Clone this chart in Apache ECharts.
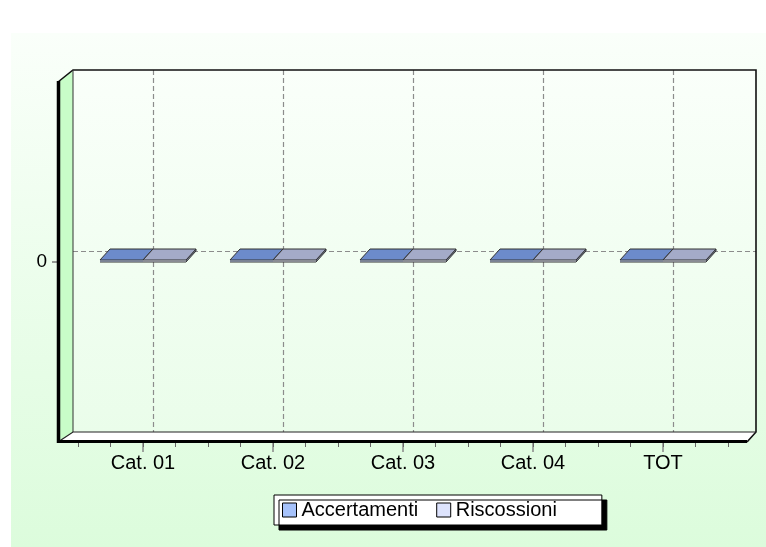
<!DOCTYPE html>
<html><head><meta charset="utf-8">
<script src="https://cdn.jsdelivr.net/npm/echarts@6/dist/echarts.min.js"></script>
<style>html,body{margin:0;padding:0;background:#fff}#c{width:766px;height:547px}</style>
</head><body><div id="c"></div>
<script>
const categories = ['Cat. 01', 'Cat. 02', 'Cat. 03', 'Cat. 04', 'TOT'];
const accertamenti = [0, 0, 0, 0, 0];
const riscossioni = [0, 0, 0, 0, 0];
const seriesNames = ['Accertamenti', 'Riscossioni'];
const yTickValues = [0];

const FONT = '"Liberation Sans", Arial, sans-serif';
const BAR_W = 43, DX = 10, DY = -11;
const TOP_COLORS = ['#6c8bcb', '#a4abc8'];
const FRONT_COLORS = ['#c3d3f5', '#e2e6f5'];
const SIDE_COLORS = ['#4f6aa8', '#8088a6'];

const chart = echarts.init(document.getElementById('c'), null, {renderer: 'canvas'});

function renderBar(params, api) {
  const i = api.value(0), v = api.value(1);
  const p0 = api.coord([i, 0]);
  const p1 = api.coord([i, v]);
  const k = params.seriesIndex;
  const x0 = p0[0] + (k === 0 ? -BAR_W : 0);
  const x1 = x0 + BAR_W;
  let yBot = Math.max(p0[1], p1[1]);
  let yTop = Math.min(p0[1], p1[1]);
  if (yBot - yTop < 2) yTop = yBot - 2;
  const stroke = '#333';
  return {
    type: 'group',
    children: [
      {type: 'polygon', shape: {points: [[x1, yTop], [x1 + DX, yTop + DY], [x1 + DX, yBot + DY], [x1, yBot]]},
       style: {fill: SIDE_COLORS[k], stroke: stroke, lineWidth: 1}},
      {type: 'rect', shape: {x: x0, y: yTop, width: BAR_W, height: yBot - yTop},
       style: {fill: FRONT_COLORS[k], stroke: null}},
      {type: 'line', shape: {x1: x0, y1: yBot, x2: x1, y2: yBot}, style: {stroke: stroke, lineWidth: 1}},
      {type: 'polygon', shape: {points: [[x0, yTop], [x1, yTop], [x1 + DX, yTop + DY], [x0 + DX, yTop + DY]]},
       style: {fill: TOP_COLORS[k], stroke: stroke, lineWidth: 1}}
    ]
  };
}

const blk = {stroke: '#111', lineWidth: 1.6};
const graphicEls = [
  {type: 'rect', silent: true, z: -10, shape: {x: 11, y: 33, width: 755, height: 514},
   style: {fill: {type: 'linear', x: 0, y: 0, x2: 0, y2: 1, colorStops: [{offset: 0, color: '#fafffa'}, {offset: 1, color: '#dcfcdc'}]}}},
  {type: 'rect', silent: true, z: -9, shape: {x: 73, y: 70, width: 683, height: 362},
   style: {fill: {type: 'linear', x: 0, y: 0, x2: 0, y2: 1, colorStops: [{offset: 0, color: '#fafffa'}, {offset: 1, color: '#eafdea'}]}}},
  {type: 'polygon', silent: true, z: -9, shape: {points: [[58, 82], [73, 70], [73, 432], [58, 442]]}, style: {fill: '#c8fdc8'}},
  {type: 'polygon', silent: true, z: -9, shape: {points: [[58, 442], [747, 442], [756, 432], [73, 432]]}, style: {fill: '#ffffff'}},
  {type: 'polyline', silent: true, z: 5, shape: {points: [[58, 82], [73, 70], [756, 70], [756, 432], [747, 442]]}, style: Object.assign({fill: null}, blk)},
  {type: 'line', silent: true, z: 5, shape: {x1: 73, y1: 70, x2: 73, y2: 432}, style: {stroke: '#333', lineWidth: 1}},
  {type: 'polyline', silent: true, z: 5, shape: {points: [[58, 442], [73, 432], [756, 432]]}, style: {fill: null, stroke: '#222', lineWidth: 1.2}},
  {type: 'line', silent: true, z: 6, shape: {x1: 58.5, y1: 81, x2: 58.5, y2: 443}, style: {stroke: '#000', lineWidth: 3.5}},
  {type: 'line', silent: true, z: 6, shape: {x1: 57, y1: 441.5, x2: 747, y2: 441.5}, style: {stroke: '#000', lineWidth: 3}}
];

const gridDash = {show: true, lineStyle: {color: '#8c8c8c', type: [5, 3], width: 1.2}};

const option = {
  animation: false,
  backgroundColor: '#ffffff',
  textStyle: {fontFamily: FONT},
  graphic: {elements: graphicEls},
  grid: [
    {left: 78, right: 38, top: 82, bottom: 105},
    {left: 73, right: 10, top: 70, bottom: 115}
  ],
  xAxis: [
    {type: 'category', gridIndex: 0, data: categories, position: 'bottom',
     axisLine: {show: false, onZero: false},
     axisTick: {show: true, alignWithLabel: true, length: 10, lineStyle: {color: '#888', width: 1.5}},
     axisLabel: {fontSize: 20, color: '#000', margin: 11, fontFamily: FONT},
     splitLine: {show: false}},
    {type: 'value', gridIndex: 1, min: -0.6154, max: 4.6385,
     axisLine: {show: false, onZero: false}, axisLabel: {show: false},
     axisTick: {show: false, customValues: [0, 1, 2, 3, 4]},
     splitLine: gridDash},
    {type: 'value', gridIndex: 0, min: 0, max: 20, interval: 1, position: 'bottom',
     axisLine: {show: false, onZero: false}, axisLabel: {show: false}, splitLine: {show: false},
     axisTick: {show: true, length: 5, lineStyle: {color: '#666', width: 1}}}
  ],
  yAxis: [
    {type: 'value', gridIndex: 0, min: -1, max: 1, offset: 21,
     axisLine: {show: false, onZero: false},
     axisTick: {show: true, length: 5, customValues: yTickValues, lineStyle: {color: '#777', width: 1.5}},
     axisLabel: {show: true, customValues: yTickValues, fontSize: 19, color: '#000', margin: 10, fontFamily: FONT},
     splitLine: {show: false}},
    {type: 'value', gridIndex: 1, min: -1, max: 1,
     axisLine: {show: false, onZero: false}, axisLabel: {show: false},
     axisTick: {show: false, customValues: yTickValues},
     splitLine: gridDash}
  ],
  legend: {
    left: 274, top: 495, orient: 'horizontal',
    data: seriesNames,
    icon: 'rect', itemWidth: 14, itemHeight: 14, itemGap: 18,
    padding: [5, 45, 5, 8],
    backgroundColor: '#ffffff', borderColor: '#000', borderWidth: 1, borderRadius: 0,
    shadowColor: '#000', shadowOffsetX: 5, shadowOffsetY: 5, shadowBlur: 0,
    textStyle: {fontSize: 20, color: '#000', fontFamily: FONT},
    itemStyle: {borderColor: '#000', borderWidth: 1}
  },
  series: [
    {name: seriesNames[0], type: 'custom', xAxisIndex: 0, yAxisIndex: 0, z: 3,
     itemStyle: {color: '#a6c2fb'}, renderItem: renderBar,
     data: accertamenti.map((v, i) => [i, v])},
    {name: seriesNames[1], type: 'custom', xAxisIndex: 0, yAxisIndex: 0, z: 3,
     itemStyle: {color: '#dde3fd'}, renderItem: renderBar,
     data: riscossioni.map((v, i) => [i, v])}
  ]
};
chart.setOption(option);
</script></body></html>
